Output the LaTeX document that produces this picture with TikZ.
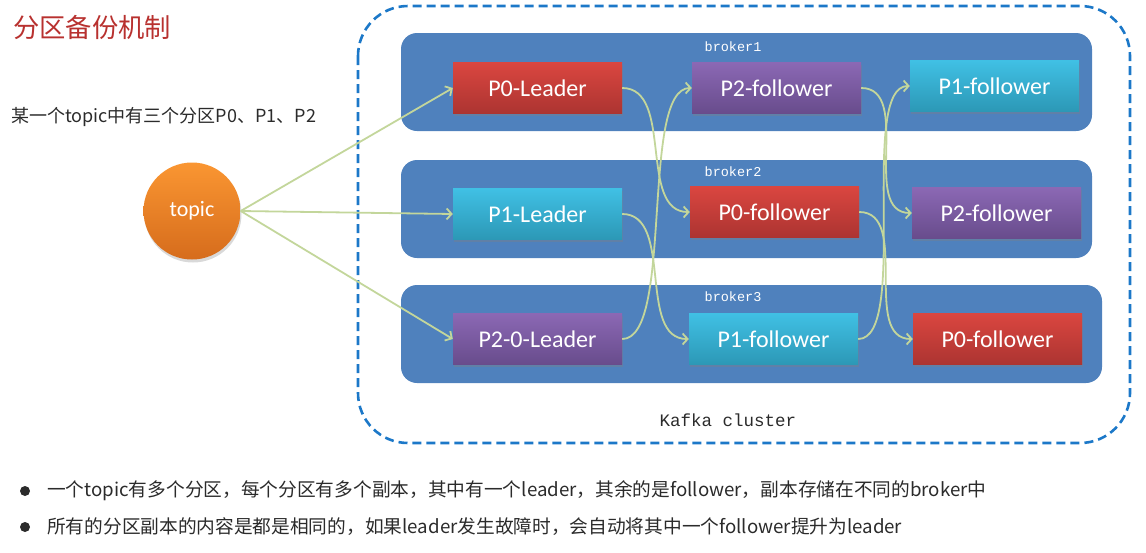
\documentclass[tikz,border=0pt]{standalone}
\usepackage{fontspec}
\setmainfont{Liberation Serif}
\newfontfamily\cjk{Noto Sans CJK SC}
\newfontfamily\carlito{Carlito}
\newfontfamily\monof{Liberation Mono}
\usetikzlibrary{arrows.meta,shadows}
\definecolor{brokerblue}{HTML}{4F81BD}
\definecolor{dashblue}{HTML}{1C78C8}
\definecolor{conncol}{HTML}{C3D69B}
\definecolor{titlecol}{HTML}{B8312F}
\definecolor{txtcol}{HTML}{2B2B2B}
\definecolor{redtop}{RGB}{218,70,64}
\definecolor{redbot}{RGB}{172,52,49}
\definecolor{purtop}{RGB}{139,104,180}
\definecolor{purbot}{RGB}{104,76,140}
\definecolor{cyantop}{RGB}{64,192,228}
\definecolor{cyanbot}{RGB}{44,152,182}
\definecolor{orgtop}{RGB}{250,150,50}
\definecolor{orgbot}{RGB}{214,108,28}
\tikzset{
  box/.style={rectangle, minimum width=169pt, minimum height=51pt, inner sep=0pt,
    text=white, font=\carlito\fontsize{24}{28}\selectfont,
    drop shadow={shadow xshift=1pt, shadow yshift=-2pt, opacity=0.35}},
  redbox/.style={box, top color=redtop, bottom color=redbot},
  purplebox/.style={box, top color=purtop, bottom color=purbot},
  cyanbox/.style={box, top color=cyantop, bottom color=cyanbot},
  brokerbar/.style={fill=brokerblue, rounded corners=16pt},
  brokerlbl/.style={text=white, font=\monof\fontsize{13.5}{15}\selectfont, inner sep=0pt},
  conn/.style={draw=conncol, line width=1.8pt, -{Straight Barb[length=5pt,width=11pt,line width=1.8pt]}},
  bodytext/.style={text=txtcol, font=\cjk\fontsize{18.7}{21}\selectfont, anchor=west, inner sep=0pt},
}
\begin{document}
\begin{tikzpicture}[x=1pt,y=-1pt]
\useasboundingbox (0,0) rectangle (1146,552);

% title and subtitle
\node[text=titlecol, font=\cjk\fontsize{26.3}{29}\selectfont, anchor=west, inner sep=0pt] (title) at (13,28) {分区备份机制};
\node[bodytext, font=\cjk\fontsize{18}{20}\selectfont] (sub) at (11,117) {某一个topic中有三个分区P0、P1、P2};

% cluster border
\draw[dashblue, line width=2.6pt, dash pattern=on 9pt off 5pt, rounded corners=50pt] (358,6) rectangle (1130,443);
\node[font=\monof\fontsize{17.5}{20}\selectfont, text=txtcol, inner sep=0pt] (kc) at (728,420) {Kafka cluster};

% brokers
\fill[brokerbar] (401,33) rectangle (1092,131);
\fill[brokerbar] (401,160) rectangle (1092,258);
\fill[brokerbar] (401,285) rectangle (1102,383);
\node[brokerlbl] (b1) at (733,47) {broker1};
\node[brokerlbl] (b2) at (733,172) {broker2};
\node[brokerlbl] (b3) at (733,297) {broker3};

% partitions
\node[redbox]    (p0l)  at (537.5,88)  {P0-Leader};
\node[purplebox] (p2f1) at (776.5,88)  {P2-follower};
\node[cyanbox]   (p1f1) at (994.5,86)  {P1-follower};

\node[cyanbox]   (p1l)  at (537.5,214) {P1-Leader};
\node[redbox]    (p0f2) at (774.5,212) {P0-follower};
\node[purplebox] (p2f2) at (996.5,213) {P2-follower};

\node[purplebox] (p2l)  at (537.5,339) {P2-0-Leader};
\node[cyanbox]   (p1f3) at (773.5,339) {P1-follower};
\node[redbox]    (p0f3) at (997.5,339) {P0-follower};

% topic
\node[circle, minimum size=97pt, inner sep=0pt, top color=orgtop, bottom color=orgbot,
  text=white, font=\carlito\fontsize{22}{26}\selectfont,
  drop shadow={shadow xshift=1pt, shadow yshift=-3pt, opacity=0.3}] (topic) at (192,211) {topic};

% connectors from topic
\draw[conn] (topic.east) -- (p0l.west);
\draw[conn] (topic.east) -- (p1l.west);
\draw[conn] (topic.east) -- (p2l.west);

% replication curves
\draw[conn] (p0l.east)  .. controls +(52,0) and +(-52,0) .. (p0f2.west);
\draw[conn] (p0f2.east) .. controls +(52,0) and +(-52,0) .. (p0f3.west);
\draw[conn] (p1l.east)  .. controls +(52,0) and +(-52,0) .. (p1f3.west);
\draw[conn] (p1f3.east) .. controls +(52,0) and +(-52,0) .. (p1f1.west);
\draw[conn] (p2l.east)  .. controls +(52,0) and +(-52,0) .. (p2f1.west);
\draw[conn] (p2f1.east) .. controls +(52,0) and +(-52,0) .. (p2f2.west);

% bullets
\node[circle, fill=txtcol, minimum size=10pt, inner sep=0pt] (bul1) at (25,491) {};
\node[bodytext] (l1) at (47,491) {一个topic有多个分区，每个分区有多个副本，其中有一个leader，其余的是follower，副本存储在不同的broker中};
\node[circle, fill=txtcol, minimum size=10pt, inner sep=0pt] (bul2) at (25,527) {};
\node[bodytext] (l2) at (47,527) {所有的分区副本的内容是都是相同的，如果leader发生故障时，会自动将其中一个follower提升为leader};
\end{tikzpicture}
\end{document}
